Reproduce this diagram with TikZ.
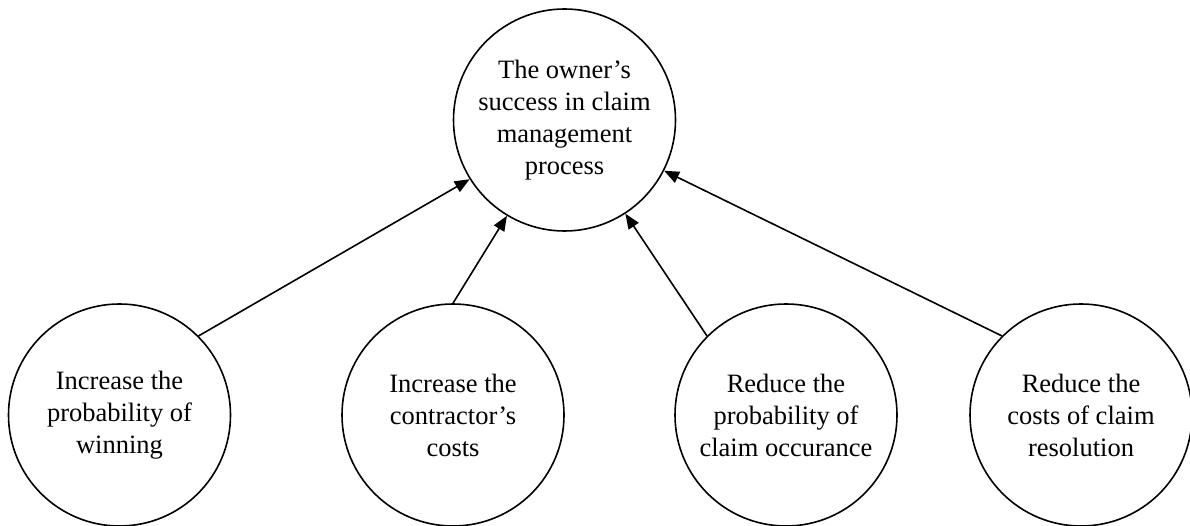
\documentclass[tikz,border=0pt]{standalone}
\usepackage{fontspec}
\setmainfont{Liberation Serif}
\usetikzlibrary{arrows.meta}
\begin{document}
\begin{tikzpicture}[x=1pt,y=1pt,
  goal/.style={circle,draw=black,line width=1.6pt,fill=white,minimum size=222pt,inner sep=0pt,
    align=center,font=\fontsize{26.5}{32}\selectfont},
  link/.style={line width=1.6pt,-{Triangle[length=15pt,width=12pt]}}]
\useasboundingbox (0,0) rectangle (1190,-526);
\node[goal] (top) at (564.5,-120) {The owner’s\\success in claim\\management\\process};
\node[goal] (a) at (119.5,-415) {Increase the\\probability of\\winning};
\node[goal] (b) at (453,-415) {Increase the\\contractor’s\\costs};
\node[goal] (c) at (786,-415) {Reduce the\\probability of\\claim occurance};
\node[goal] (d) at (1081,-415) {Reduce the\\costs of claim\\resolution};
\draw[link] (a.45) -- (top.212);
\draw[link] (b.90) -- (top.239);
\draw[link] (c.135) -- (top.303);
\draw[link] (d.135) -- (top.333);
\end{tikzpicture}
\end{document}
